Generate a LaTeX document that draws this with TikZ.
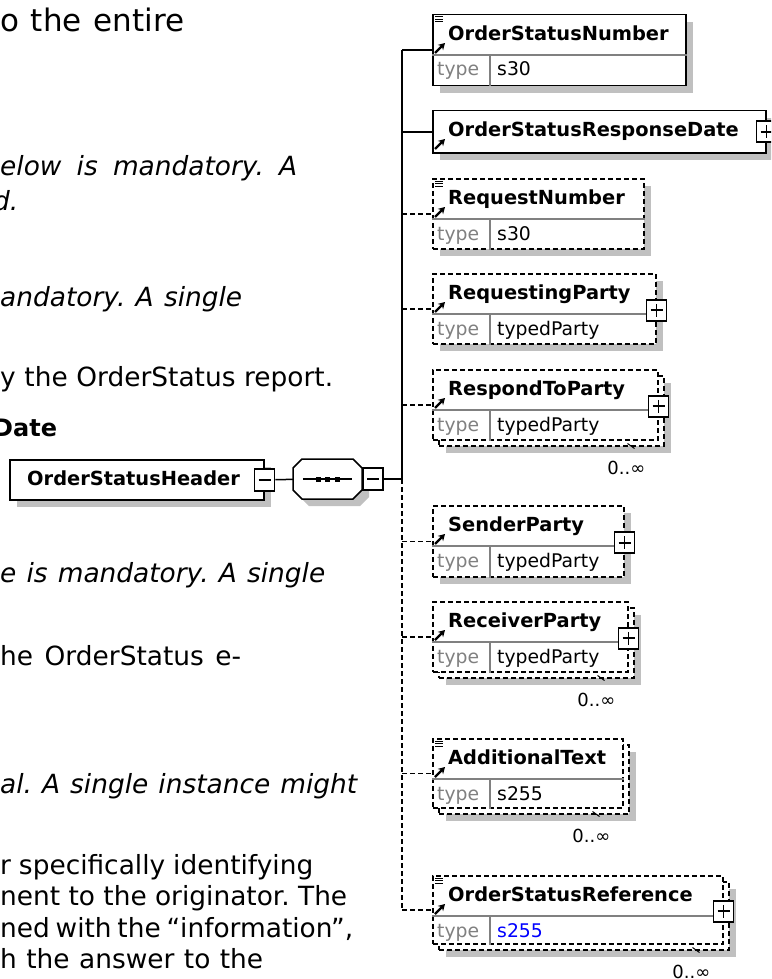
\documentclass[tikz,border=0pt]{standalone}
\usepackage{fontspec}
\setmainfont{DejaVu Sans}
\usepackage{xcolor}
\usepackage{tikz}
\usetikzlibrary{shadows}
\usetikzlibrary{arrows.meta}
\frenchspacing
\definecolor{shadowgray}{RGB}{192,192,192}
\definecolor{rowgray}{RGB}{128,128,128}
\definecolor{valblue}{RGB}{0,0,255}
\tikzset{ elem_box/.style = {rectangle, draw, line width=1.5pt, fill=white, inner sep=0pt, anchor=north west} }
\tikzset{ box_shadow/.style = {drop shadow={shadow xshift=7pt, shadow yshift=-7pt, fill=shadowgray, opacity=1}} }
\tikzset{ opt_dash/.style = {dash pattern=on 5pt off 3pt} }
\tikzset{ conn/.style = {line width=1.5pt} }
\tikzset{ elem_name/.style = {anchor=base west, inner sep=0pt, font=\bfseries\fontsize{19.4}{22}\selectfont} }
\tikzset{ type_key/.style = {anchor=base west, inner sep=0pt, text=rowgray, font=\fontsize{18.8}{22}\selectfont} }
\tikzset{ type_val/.style = {anchor=base west, inner sep=0pt, font=\fontsize{18.8}{22}\selectfont} }
\tikzset{ card_lbl/.style = {anchor=base east, inner sep=0pt, font=\fontsize{18}{22}\selectfont} }
\tikzset{ body_txt/.style = {anchor=base west, inner sep=0pt, font=\fontsize{26.4}{32}\selectfont} }
\tikzset{ tog_box/.style = {rectangle, draw, fill=white, line width=1.6pt, minimum width=20pt, minimum height=21pt, inner sep=0pt} }
\tikzset{ minus_box/.style = {tog_box, path picture={\draw[line width=1.6pt] ([xshift=4pt]path picture bounding box.west) -- ([xshift=-4pt]path picture bounding box.east);}} }
\tikzset{ plus_box/.style = {tog_box, path picture={\draw[line width=1.6pt] ([xshift=4pt]path picture bounding box.west) -- ([xshift=-4pt]path picture bounding box.east) ([yshift=-4pt]path picture bounding box.north) -- ([yshift=4pt]path picture bounding box.south);}} }

\begin{document}
\begin{tikzpicture}[x=1pt, y=-1pt]
\useasboundingbox (0,0) rectangle (771,979);
\clip (0,0) rectangle (771,979);

% text left of the diagram
\node[body_txt, font=\fontsize{31}{36}\selectfont] (txt_1) at (0,32) {\makebox[184pt][s]{o the entire}};
\node[body_txt] (txt_2) at (0,175.5) {\itshape\makebox[297pt][s]{elow is mandatory. A}};
\node[body_txt] (txt_3) at (-7,210.5) {\itshape d.};
\node[body_txt] (txt_4) at (0,306) {\itshape\makebox[242pt][s]{andatory. A single}};
\node[body_txt] (txt_5) at (0,386.5) {\makebox[333pt][s]{y the OrderStatus report.}};
\node[body_txt, font=\bfseries\fontsize{24}{30}\selectfont] (txt_6) at (-7,436) {Date};
\node[body_txt] (txt_7) at (0,582) {\itshape\makebox[325pt][s]{e is mandatory. A single}};
\node[body_txt] (txt_8) at (0,665) {\makebox[241pt][s]{he OrderStatus e-}};
\node[body_txt] (txt_9) at (0,793) {\itshape\makebox[357pt][s]{al. A single instance might}};
\node[body_txt] (txt_10) at (0,874) {\makebox[313pt][s]{r specifically identifying}};
\node[body_txt] (txt_11) at (0,905.5) {\makebox[347pt][s]{nent to the originator. The}};
\node[body_txt] (txt_12) at (0,937) {\makebox[353pt][s]{ned with the “information”,}};
\node[body_txt] (txt_13) at (0,968) {\makebox[263pt][s]{h the answer to the}};

% header element and sequence
\node[elem_box, box_shadow, minimum width=254pt, minimum height=40pt] (hdr) at (9,459) {};
\node[elem_name] (hdr_name) at (27,485) {OrderStatusHeader};
\node[minus_box, minimum height=22pt] (hdr_tog) at (hdr.east) {};
\fill[shadowgray] (309,466) -- (360,466) -- (369,475) -- (369,497) -- (360,506) -- (309,506) -- (300,497) -- (300,475) -- cycle;
\draw[line width=1.5pt, fill=white] (302,459) -- (353,459) -- (362,468) -- (362,490) -- (353,499) -- (302,499) -- (293,490) -- (293,468) -- cycle;
\node[inner sep=0pt, minimum width=69pt, minimum height=40pt] (seq) at (327.5,479) {};
\draw[line width=1.2pt] ([xshift=10pt]seq.west) -- ([xshift=-10pt]seq.east);
\foreach \dx in {-9.5,0,9.5} \fill ([xshift=\dx pt]seq.center) +(-2.5,-2.5) rectangle +(2.5,2.5);
\node[minus_box, minimum height=22pt, anchor=west] (seq_tog) at (seq.east) {};
\coordinate (trunk) at (402,479);
\draw[conn] (hdr_tog) -- (seq);
\draw[conn] (seq_tog) -- (trunk);

% child elements
\node[elem_box, box_shadow, minimum width=253pt, minimum height=71pt] (osn) at (432,14) {};
\node[elem_box, box_shadow, minimum width=333pt, minimum height=42pt] (osrd) at (432,110) {};
\node[elem_box, box_shadow, opt_dash, minimum width=211pt, minimum height=70pt] (rqn) at (432,178) {};
\node[elem_box, box_shadow, opt_dash, minimum width=223pt, minimum height=70pt] (rqp) at (432,273) {};
\node[elem_box, box_shadow, opt_dash, minimum width=225pt, minimum height=70pt] (rtp_back) at (438,375) {};
\node[elem_box, opt_dash, minimum width=225pt, minimum height=70pt] (rtp) at (432,369) {};
\node[elem_box, box_shadow, opt_dash, minimum width=191pt, minimum height=71pt] (sdp) at (432,505) {};
\node[elem_box, box_shadow, opt_dash, minimum width=195pt, minimum height=70pt] (rcp_back) at (438,607) {};
\node[elem_box, opt_dash, minimum width=195pt, minimum height=70pt] (rcp) at (432,601) {};
\node[elem_box, box_shadow, opt_dash, minimum width=190pt, minimum height=69pt] (adt_back) at (438,744) {};
\node[elem_box, opt_dash, minimum width=190pt, minimum height=69pt] (adt) at (432,738) {};
\node[elem_box, box_shadow, opt_dash, minimum width=290pt, minimum height=68pt] (osr_back) at (438,881) {};
\node[elem_box, opt_dash, minimum width=290pt, minimum height=68pt] (osr) at (432,875) {};

% connectors
\draw[conn] (osn.west -| trunk) -- (trunk);
\draw[conn, opt_dash] (trunk) -- (osr.west -| trunk);
\foreach \n in {osn, osrd} \draw[conn] (\n.west -| trunk) -- (\n.west);
\foreach \n in {rqn, rqp, rtp, sdp, rcp, adt, osr} \draw[conn, opt_dash] (\n.west -| trunk) -- (\n.west);

% names and type rows
\foreach \n/\t in {osn/OrderStatusNumber, osrd/OrderStatusResponseDate, rqn/RequestNumber, rqp/RequestingParty, rtp/RespondToParty, sdp/SenderParty, rcp/ReceiverParty, adt/AdditionalText, osr/OrderStatusReference}
{
  \node[elem_name] (\n_name) at ([xshift=16pt, yshift=-26.5pt]\n.north west) {\t};
  \draw[line width=2.2pt, -{Stealth[length=6.5pt, width=7.5pt]}] ([xshift=3pt, yshift=-39pt]\n.north west) -- ++(10,-10);
}
\foreach \n/\v in {osn/s30, rqn/s30, rqp/typedParty, rtp/typedParty, sdp/typedParty, rcp/typedParty, adt/s255, osr/s255}
{
  \draw[rowgray, line width=1.2pt, solid] ([yshift=-41pt]\n.north west) -- ([yshift=-41pt]\n.north east);
  \draw[rowgray, line width=1.2pt, solid] ([xshift=58pt, yshift=-41pt]\n.north west) -- ([xshift=58pt]\n.south west);
  \node[type_key] (\n_key) at ([xshift=5pt, yshift=-62pt]\n.north west) {type};
}
\foreach \n/\v in {osn/s30, rqn/s30, rqp/typedParty, rtp/typedParty, sdp/typedParty, rcp/typedParty, adt/s255}
  \node[type_val] (\n_val) at ([xshift=65pt, yshift=-62pt]\n.north west) {\v};
\node[type_val, text=valblue] (osr_val) at ([xshift=65pt, yshift=-62pt]osr.north west) {s255};

% documentation icons
\foreach \n in {osn, rqn, adt, osr}
  \foreach \d in {3,5.5,8} \draw[line width=1pt] ([xshift=3pt, yshift=-\d pt]\n.north west) -- ++(8,0);

% expand boxes
\node[plus_box] (osrd_tog) at (osrd.east) {};
\foreach \n in {rqp, rtp, sdp, rcp, osr} \node[plus_box] (\n_tog) at ([yshift=-1.5pt]\n.east) {};

% occurrences
\foreach \n in {rtp, rcp, adt, osr}
{
  \draw[line width=1pt] ([xshift=-37pt, yshift=3pt]\n_back.south east) -- ++(7,5);
  \node[card_lbl] (\n_card) at ([xshift=-19pt, yshift=-28pt]\n_back.south east) {0..∞};
}
\end{tikzpicture}
\end{document}
